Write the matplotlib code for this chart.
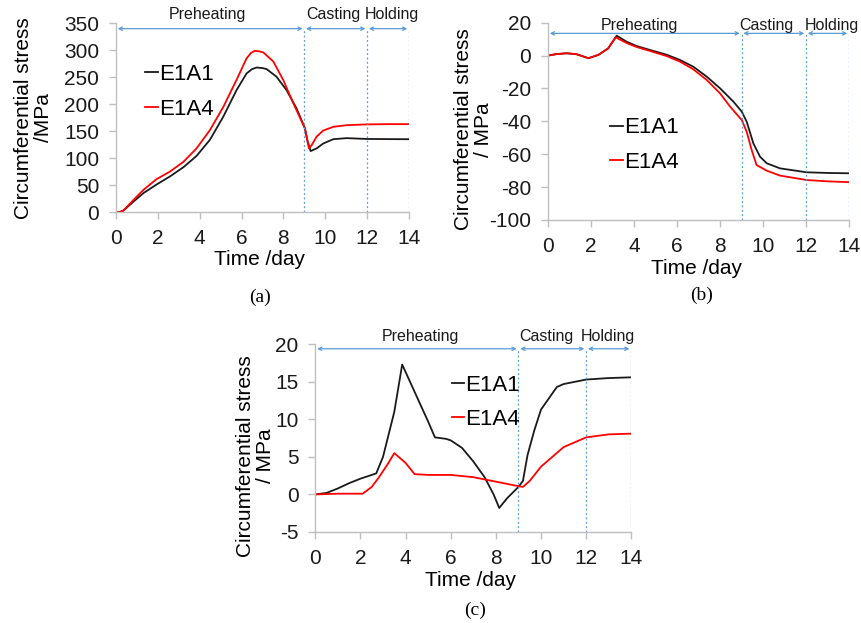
import matplotlib
matplotlib.use("Agg")
import matplotlib.pyplot as plt

plt.rcParams["font.family"] = ["Liberation Sans", "DejaVu Sans"]
plt.rcParams["axes.unicode_minus"] = False

# ---- data (time in days, stress in MPa) ----
t_a1 = [0, 0.2, 0.35, 0.83, 1.31, 1.94, 2.58, 3.22, 3.85, 4.49, 5.13, 5.76, 6.24, 6.5, 6.72, 7.0, 7.2, 7.67,
        8.15, 8.63, 9.03, 9.14, 9.3, 9.59, 9.9, 10.38, 11.02, 11.98, 13, 14]
s_a1 = [0, 0.3, 2.5, 19, 35, 51, 66, 83, 104, 134, 177, 226, 257, 265, 268, 267, 265, 251,
        226, 192, 155, 133.5, 113, 118, 127, 135, 137, 135.5, 135.2, 135]
t_a4 = [0, 0.2, 0.35, 0.83, 1.31, 1.94, 2.58, 3.22, 3.85, 4.49, 5.13, 5.76, 6.24, 6.45, 6.64, 6.85, 7.04, 7.52,
        7.99, 8.47, 9.03, 9.14, 9.22, 9.35, 9.59, 9.9, 10.38, 11.02, 11.98, 13, 14]
s_a4 = [0, 0.3, 2.5, 22, 41, 61, 75, 93, 118, 152, 195, 245, 285, 295, 299, 298, 296, 279,
        245, 202, 155, 133.5, 118, 124, 140, 151, 158, 161, 162.5, 163, 163]

t_b1 = [0, 0.4, 0.87, 1.33, 1.88, 2.34, 2.8, 3.19, 3.66, 4.12, 4.74, 5.52, 6.14, 6.76, 7.38, 8.0, 8.62,
        9.01, 9.24, 9.55, 9.86, 10.17, 10.79, 12.03, 13, 14]
s_b1 = [0, 0.9, 1.4, 0.8, -1.6, 0.4, 4.4, 12.1, 8.4, 5.8, 3.4, 0.5, -2.7, -6.8, -12.8, -19.9, -28,
        -34.1, -40.2, -53.4, -61.5, -65.5, -68.6, -71, -71.4, -71.6]
t_b4 = [0, 0.4, 0.87, 1.33, 1.88, 2.34, 2.8, 3.15, 3.66, 4.12, 4.74, 5.52, 6.14, 6.76, 7.38, 8.0, 8.47,
        9.01, 9.24, 9.47, 9.7, 10.17, 10.79, 12.03, 13, 14]
s_b4 = [0, 0.9, 1.4, 0.8, -1.6, 0.4, 4.4, 11.1, 7.6, 5.2, 2.8, -0.3, -3.7, -8.4, -14.8, -23, -31.1,
        -39.2, -46.3, -57.4, -66.6, -70, -73, -75.7, -76.5, -77]

t_c1 = [0, 0.5, 1, 1.5, 2, 2.7, 3, 3.5, 3.85, 4.5, 5, 5.3, 5.8, 6, 6.5, 7, 7.5, 7.9, 8.15, 8.5, 9, 9.2,
        9.4, 9.7, 10, 10.7, 11, 12, 13, 14]
s_c1 = [0, 0.2, 0.8, 1.5, 2.1, 2.8, 5, 11, 17.3, 13, 9.7, 7.6, 7.4, 7.2, 6.2, 4.4, 2.3, 0, -1.8, -0.5, 1, 1.8,
        5.2, 8.5, 11.3, 14.3, 14.7, 15.3, 15.5, 15.6]
t_c4 = [0, 1, 2.1, 2.5, 2.8, 3.2, 3.5, 4, 4.4, 5, 6, 7, 8, 9, 9.2, 9.5, 10, 10.5, 11, 12, 13, 14]
s_c4 = [0, 0.1, 0.1, 1, 2.2, 4, 5.5, 4.2, 2.7, 2.6, 2.6, 2.3, 1.7, 1.1, 1.0, 1.8, 3.7, 5.0, 6.3, 7.6, 8.0, 8.1]

phase_names = ["Preheating", "Casting", "Holding"]
phase_edges = [0, 9, 12, 14]
x_ticks = [0, 2, 4, 6, 8, 10, 12, 14]

BLUE = "#5b9bd5"
GRAY = "#bfbfbf"

fig = plt.figure(figsize=(8.61, 6.23), dpi=100)


def panel(rect, curves, ylim, yticks, arrow_y, text_y, text_x, ylabel,
          ylab_xy, xlab_xy, leg_anchor):
    ax = fig.add_axes(rect)
    for t, s, c, lab in curves:
        ax.plot(t, s, color=c, lw=1.3, label=lab)
    ax.set_xlim(0, 14)
    ax.set_ylim(*ylim)
    ax.set_xticks(x_ticks)
    ax.set_yticks(yticks)
    for side in ("top", "right"):
        ax.spines[side].set_visible(False)
    for side in ("left", "bottom"):
        ax.spines[side].set_color(GRAY)
        ax.spines[side].set_linewidth(1.0)
    ax.tick_params(axis="both", direction="out", length=5, width=1.0,
                   color=GRAY, labelsize=15, pad=7, labelcolor="#1a1a1a")

    # phase markers
    for x in phase_edges[1:]:
        ax.plot([x, x], [ylim[0], arrow_y], ls=(0, (1.5, 2)), color=BLUE, lw=0.9)
    for i, name in enumerate(phase_names):
        x0, x1 = phase_edges[i] + 0.08, phase_edges[i + 1] - 0.08
        ax.annotate("", xy=(x1, arrow_y), xytext=(x0, arrow_y),
                    arrowprops=dict(arrowstyle="<->", color=BLUE, lw=0.9,
                                    mutation_scale=6, shrinkA=0, shrinkB=0),
                    annotation_clip=False)
        ax.text(text_x[i], text_y, name, ha="center", va="center",
                fontsize=11.5, color="#1a1a1a", clip_on=False)

    ax.set_ylabel(ylabel, fontsize=15, linespacing=1.05)
    ax.yaxis.set_label_coords(*ylab_xy)
    ax.set_xlabel("Time /day", fontsize=15)
    ax.xaxis.set_label_coords(*xlab_xy)
    ax.legend(loc="upper left", bbox_to_anchor=leg_anchor, frameon=False,
              fontsize=16, handlelength=0.55, handletextpad=0.05,
              labelspacing=0.6, borderaxespad=0)
    return ax


panel([0.1347, 0.6597, 0.3403, 0.3029],
      [(t_a1, s_a1, "#1a1a1a", "E1A1"), (t_a4, s_a4, "#ff0000", "E1A4")],
      (0, 350), range(0, 351, 50), 340, 366, [4.35, 10.37, 13.2],
      "Circumferential stress\n/MPa", (-0.215, 0.5), (0.49, -0.2),
      (0.07, 0.83))

panel([0.6365, 0.6469, 0.3496, 0.3167],
      [(t_b1, s_b1, "#1a1a1a", "E1A1"), (t_b4, s_b4, "#ff0000", "E1A4")],
      (-100, 20), range(-100, 21, 20), 13.5, 18, [4.25, 10.17, 13.22],
      "Circumferential stress\n/ MPa", (-0.183, 0.46), (0.494, -0.2),
      (0.178, 0.565))

panel([0.3662, 0.1461, 0.367, 0.3013],
      [(t_c1, s_c1, "#1a1a1a", "E1A1"), (t_c4, s_c4, "#ff0000", "E1A4")],
      (-5, 20), range(-5, 21, 5), 19.4, 21.1, [4.68, 10.25, 12.98],
      "Circumferential stress\n/ MPa", (-0.128, 0.406), (0.49, -0.21),
      (0.405, 0.885))

serif = ["Liberation Serif", "DejaVu Serif"]
fig.text(260 / 861, 1 - 297 / 623, "(a)", ha="center", va="center", fontsize=14, family=serif)
fig.text(702 / 861, 1 - 295 / 623, "(b)", ha="center", va="center", fontsize=14, family=serif)
fig.text(475 / 861, 1 - 610 / 623, "(c)", ha="center", va="center", fontsize=14, family=serif)

fig.savefig("out.png", dpi=100)
